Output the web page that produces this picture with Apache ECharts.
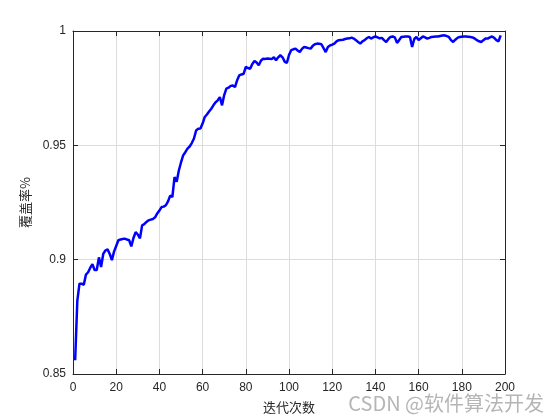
<!DOCTYPE html>
<html>
<head>
<meta charset="utf-8">
<script src="https://cdn.jsdelivr.net/npm/echarts@6/dist/echarts.min.js"></script>
<style>html,body{margin:0;padding:0;background:#fff}#c{width:560px;height:420px}</style>
</head>
<body>
<div id="c"></div>
<script>
const iterations = Array.from({length: 198}, (_, i) => i + 1);
const coverage = [
0.856,0.882,0.8895,0.8895,0.889,0.8935,0.8945,0.8965,0.898,0.8955,
0.8955,0.901,0.8968,0.9025,0.904,0.9045,0.9025,0.8998,0.9035,0.906,
0.9085,0.9088,0.909,0.9092,0.9088,0.9085,0.9058,0.9095,0.912,0.911,
0.9093,0.915,0.9155,0.9165,0.9172,0.9175,0.9178,0.9185,0.9202,0.9215,
0.923,0.9232,0.9238,0.9255,0.928,0.9274,0.9361,0.9341,0.939,0.9425,
0.9456,0.947,0.9486,0.9495,0.951,0.953,0.9565,0.9573,0.9574,0.9595,
0.9624,0.9635,0.9648,0.966,0.9675,0.9688,0.9697,0.9711,0.9675,0.972,
0.9748,0.9752,0.976,0.9762,0.9755,0.9785,0.9806,0.981,0.9813,0.9843,
0.9838,0.9835,0.9855,0.9869,0.9862,0.985,0.987,0.9879,0.9878,0.988,
0.9879,0.9877,0.9885,0.9872,0.9885,0.9894,0.9885,0.9866,0.986,0.9895,
0.9916,0.992,0.9923,0.9915,0.9908,0.9922,0.993,0.9928,0.9925,0.9923,
0.9935,0.9942,0.9945,0.9944,0.9942,0.9925,0.9908,0.993,0.9937,0.994,
0.9945,0.9955,0.996,0.9961,0.9962,0.9965,0.9967,0.9968,0.9971,0.9967,
0.996,0.9952,0.9945,0.9955,0.996,0.9968,0.9974,0.9967,0.9972,0.9976,
0.9972,0.9968,0.997,0.996,0.9952,0.9965,0.9974,0.9976,0.9972,0.9948,
0.996,0.9974,0.9975,0.9976,0.9976,0.9974,0.993,0.9965,0.9974,0.996,
0.9968,0.9976,0.9972,0.9967,0.997,0.9974,0.9975,0.9976,0.9976,0.9978,
0.998,0.9981,0.9978,0.9974,0.996,0.9952,0.9962,0.997,0.9974,0.9975,
0.9976,0.9976,0.9975,0.9974,0.9972,0.9967,0.996,0.9955,0.9952,0.996,
0.9967,0.9967,0.9972,0.9976,0.997,0.996,0.9955,0.9981
];
const xTitle = '迭代次数';
const yTitle = '覆盖率%';
const watermark = 'CSDN @软件算法开发';

const chart = echarts.init(document.getElementById('c'), null, {renderer: 'canvas'});
const axisColor = '#262626';
const font = '"Liberation Sans", Arial, "Noto Sans CJK SC", sans-serif';
const cjk = '"Noto Sans CJK SC", sans-serif';
const baseX = {
  type: 'value', min: 0, max: 200, interval: 20,
  axisLine: {show: true, onZero: false, lineStyle: {color: axisColor, width: 1}},
  axisTick: {show: true, inside: true, length: 5, lineStyle: {color: axisColor}},
  splitLine: {show: false}
};
const baseY = {
  type: 'value', min: 0.85, max: 1, interval: 0.05,
  axisLine: {show: true, onZero: false, lineStyle: {color: axisColor, width: 1}},
  axisTick: {show: true, inside: true, length: 5, lineStyle: {color: axisColor}},
  splitLine: {show: false}
};
chart.setOption({
  animation: false,
  backgroundColor: '#fff',
  grid: {left: 73, right: 55, top: 31, bottom: 46, containLabel: false},
  xAxis: [
    Object.assign({}, baseX, {
      position: 'bottom',
      name: xTitle, nameLocation: 'middle', nameGap: 27,
      nameTextStyle: {fontFamily: cjk, fontSize: 13, color: axisColor},
      axisLabel: {show: true, color: axisColor, fontSize: 12, fontFamily: font, margin: 8},
      splitLine: {show: true, lineStyle: {color: '#dcdcdc', width: 1}}
    }),
    Object.assign({}, baseX, {position: 'top', axisLabel: {show: false}})
  ],
  yAxis: [
    Object.assign({}, baseY, {
      position: 'left',
      name: yTitle, nameLocation: 'middle', nameGap: 34, nameRotate: 90,
      nameTextStyle: {fontFamily: cjk, fontSize: 13, color: axisColor},
      axisLabel: {show: true, color: axisColor, fontSize: 12, fontFamily: font, margin: 7},
      splitLine: {show: true, lineStyle: {color: '#dcdcdc', width: 1}}
    }),
    Object.assign({}, baseY, {position: 'right', axisLabel: {show: false}})
  ],
  series: [{
    type: 'line',
    xAxisIndex: 0, yAxisIndex: 0,
    data: iterations.map((x, i) => [x, coverage[i]]),
    showSymbol: false,
    lineStyle: {color: '#0000ff', width: 2.5},
    itemStyle: {color: '#0000ff'}
  }],
  graphic: [{
    type: 'text', right: 16, top: 393,
    style: {text: watermark, fill: 'rgba(150,150,150,0.7)', font: '20px "Noto Sans CJK SC", sans-serif'}
  }]
});
</script>
</body>
</html>
